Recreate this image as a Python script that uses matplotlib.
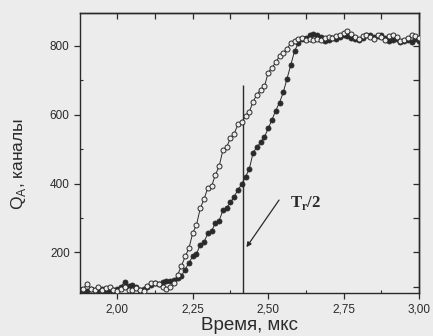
import numpy as np
import matplotlib
matplotlib.use("Agg")
import matplotlib.pyplot as plt

# time grid, µs (sampling step 12.5 ns)
t_start, t_step, n_pts = 1.8875, 0.0125, 90
time_us = np.round(t_start + t_step * np.arange(n_pts), 4)

open_series = [
    95, 108, 95, 92, 98, 90, 96, 100, 92, 88,
    95, 100, 92, 90, 96, 92, 88, 102, 110, 112,
    108, 100, 95, 98, 112, 135, 160, 188, 212, 256,
    280, 328, 355, 387, 392, 425, 450, 497, 506, 532,
    545, 572, 578, 596, 608, 638, 658, 672, 682, 722,
    736, 752, 770, 780, 792, 808, 815, 820, 822, 818,
    820, 818, 820, 818, 822, 825, 822, 828, 832, 838,
    842, 835, 825, 820, 828, 832, 825, 820, 830, 825,
    818, 828, 830, 825, 815, 818, 822, 832, 828, 822,
]
filled_series = [
    85, 88, 95, 92, 90, 95, 88, 92, 90, 95,
    100, 115, 102, 105, 98, 92, 95, 100, 105, 110,
    108, 115, 118, 118, 120, 125, 132, 150, 170, 188,
    196, 222, 230, 255, 262, 285, 292, 322, 330, 345,
    362, 382, 398, 420, 442, 490, 505, 520, 535, 560,
    585, 612, 635, 665, 705, 745, 785, 808, 820, 822,
    830, 835, 832, 825, 815, 818, 822, 820, 825, 832,
    828, 822, 820, 818, 822, 830, 832, 825, 828, 830,
    822, 815, 818, 820, 812, 815, 818, 812, 820, 815,
]

x_ticks = [2.00, 2.25, 2.50, 2.75, 3.00]
x_tick_labels = ["2,00", "2,25", "2,50", "2,75", "3,00"]
x_minor = [2.125, 2.375, 2.625, 2.875]
y_ticks = [200, 400, 600, 800]
y_tick_labels = ["200", "400", "600", "800"]
y_minor = [100, 300, 500, 700]

half_period_t = 2.416
half_period_top = 685
arrow_tail = (2.536, 352)
arrow_head = (2.428, 215)
label_pos = (2.572, 342)

bg = "#ececec"
ink = "#2a2a2a"
plt.rcParams["font.family"] = ["Liberation Sans", "DejaVu Sans"]

fig = plt.figure(figsize=(4.33, 3.36), dpi=100, facecolor=bg)
ax = fig.add_axes([0.185, 0.128, 0.783, 0.833], facecolor=bg)

ax.plot(time_us, filled_series, "-", color=ink, lw=0.7, marker="o", ms=3.6,
        mfc=ink, mec=ink, mew=0.6, zorder=3)
ax.plot(time_us, open_series, "-", color=ink, lw=0.7, marker="o", ms=3.6,
        mfc=bg, mec=ink, mew=0.7, zorder=4)

ax.vlines(half_period_t, 82, half_period_top, color=ink, lw=1.0, zorder=2)
ax.annotate("", xy=arrow_head, xytext=arrow_tail,
            arrowprops=dict(arrowstyle="-|>", color=ink, lw=0.9,
                            mutation_scale=7, shrinkA=0, shrinkB=0))
ax.text(label_pos[0], label_pos[1], r"T$_\mathregular{r}$/2", fontsize=12,
        family="Liberation Serif", color=ink, va="center", ha="left",
        fontweight="bold")

ax.set_xlim(1.877, 3.0)
ax.set_ylim(82, 895)
ax.set_xticks(x_ticks)
ax.set_xticklabels(x_tick_labels)
ax.set_yticks(y_ticks)
ax.set_yticklabels(y_tick_labels)
ax.set_xticks(x_minor, minor=True)
ax.set_yticks(y_minor, minor=True)

ax.tick_params(axis="both", which="major", labelsize=8.5, colors=ink,
               direction="out", length=4, width=0.9)
ax.tick_params(axis="both", which="minor", direction="in", length=2.5,
               width=0.8, colors=ink)

top = ax.secondary_xaxis("top")
top.set_xticks(x_ticks + x_minor)
top.tick_params(direction="in", length=4, width=0.9, colors=ink,
                labeltop=False)
right = ax.secondary_yaxis("right")
right.set_yticks(y_ticks + y_minor)
right.tick_params(direction="in", length=4, width=0.9, colors=ink,
                  labelright=False)
for a in (top, right):
    for s in a.spines.values():
        s.set_color(ink)
        s.set_linewidth(1.0)

for s in ax.spines.values():
    s.set_color(ink)
    s.set_linewidth(1.0)

ax.set_xlabel("Время, мкс", fontsize=13.5, color=ink)
ax.xaxis.set_label_coords(0.5, -0.085)
ax.set_ylabel(r"Q$_\mathregular{A}$, каналы", fontsize=12.5, color=ink)
ax.yaxis.set_label_coords(-0.155, 0.46)

fig.savefig("out.png", dpi=100, facecolor=bg)
